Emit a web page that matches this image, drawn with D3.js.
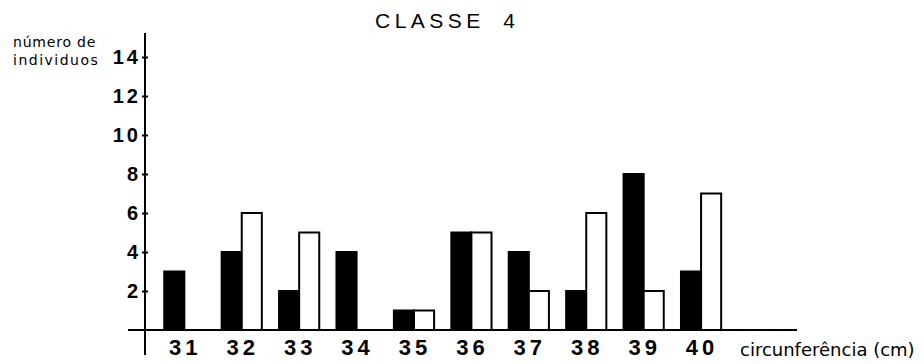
<!DOCTYPE html>
<html>
<head>
<meta charset="utf-8">
<script src="https://cdn.jsdelivr.net/npm/d3@7"></script>
<style>
  html, body { margin: 0; padding: 0; background: #fff; }
  svg { display: block; }
  text { font-family: "Liberation Sans", Arial, sans-serif; fill: #000; }
</style>
</head>
<body>
<svg id="chart" width="924" height="364"></svg>
<script>
// Circumference classes (cm)
const categories = ["31", "32", "33", "34", "35", "36", "37", "38", "39", "40"];
// Number of individuals per class, two series (filled and open bars)
const seriesFilled = [3, 4, 2, 4, 1, 5, 4, 2, 8, 3];
const seriesOpen   = [0, 6, 5, 0, 1, 5, 2, 6, 2, 7];
const seriesKeys = ["filled", "open"];
const yTicks = [2, 4, 6, 8, 10, 12, 14];

const svg = d3.select("#chart");

const axisX = 145, baseY = 330;

const x = d3.scaleBand().domain(categories).range([147, 738.4]).padding(0.3);
const xInner = d3.scaleBand().domain(seriesKeys).range([0, x.bandwidth()]);
const y = d3.scaleLinear().domain([0, 14]).range([baseY, 57]);

const rows = categories.map((c, i) => ({ cat: c, filled: seriesFilled[i], open: seriesOpen[i] }));

// Bars
const groups = svg.append("g").selectAll("g").data(rows).join("g")
  .attr("transform", d => `translate(${x(d.cat)},0)`);

groups.selectAll("rect")
  .data(d => seriesKeys.map(k => ({ key: k, value: d[k] })).filter(v => v.value > 0))
  .join("rect")
  .attr("x", d => xInner(d.key))
  .attr("width", xInner.bandwidth())
  .attr("y", d => y(d.value))
  .attr("height", d => baseY - y(d.value))
  .attr("fill", d => d.key === "filled" ? "#000" : "#fff")
  .attr("stroke", "#000")
  .attr("stroke-width", 2);

// Y axis
const yAxis = svg.append("g")
  .attr("transform", `translate(${axisX},0)`)
  .call(d3.axisLeft(y).tickValues(yTicks).tickSize(3).tickPadding(4));
yAxis.select(".domain").remove();
yAxis.selectAll(".tick line").attr("x1", -3).attr("x2", 3).attr("stroke", "#000").attr("stroke-width", 2);
yAxis.selectAll(".tick text")
  .style("font-family", "'Liberation Sans', Arial, sans-serif")
  .style("font-size", "20px")
  .style("font-weight", "bold")
  .style("letter-spacing", "3px")
  .attr("x", -4)
  .attr("fill", "#000");

svg.append("line")
  .attr("x1", axisX).attr("x2", axisX)
  .attr("y1", 33).attr("y2", 355)
  .attr("stroke", "#000").attr("stroke-width", 2);

// X axis baseline and category labels
svg.append("line")
  .attr("x1", 128).attr("x2", 797)
  .attr("y1", baseY).attr("y2", baseY)
  .attr("stroke", "#000").attr("stroke-width", 2);

const xAxis = svg.append("g")
  .attr("transform", `translate(0,${baseY})`)
  .call(d3.axisBottom(x).tickSize(0).tickPadding(0));
xAxis.select(".domain").remove();
xAxis.selectAll(".tick text")
  .style("font-family", "'Liberation Sans', Arial, sans-serif")
  .style("font-size", "22px")
  .style("font-weight", "bold")
  .style("letter-spacing", "4px")
  .attr("dx", "1px")
  .attr("dy", null)
  .attr("y", 25)
  .attr("fill", "#000");

// Titles
svg.append("text")
  .attr("x", 375).attr("y", 28)
  .style("font-size", "21px")
  .style("letter-spacing", "4.5px")
  .style("word-spacing", "8px")
  .text("CLASSE 4");

svg.append("text")
  .attr("x", 13).attr("y", 47)
  .style("font-family", "'DejaVu Sans', sans-serif")
  .style("font-size", "14px")
  .style("letter-spacing", "0.8px")
  .text("número de");
svg.append("text")
  .attr("x", 13).attr("y", 65)
  .style("font-family", "'DejaVu Sans', sans-serif")
  .style("font-size", "14px")
  .style("letter-spacing", "1.5px")
  .text("individuos");

svg.append("text")
  .attr("x", 740).attr("y", 356)
  .style("font-family", "'DejaVu Sans', sans-serif")
  .style("font-size", "18px")
  .text("circunferência (cm)");
</script>
</body>
</html>
